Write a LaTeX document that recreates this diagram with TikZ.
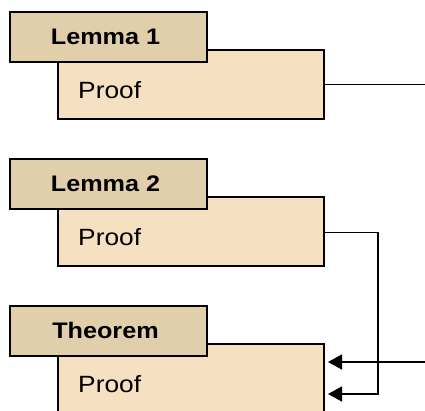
\documentclass[tikz,border=0pt]{standalone}
\usepackage{fontspec}
\setmainfont{Liberation Sans}[FakeStretch=1.12]
\usetikzlibrary{arrows.meta}
\definecolor{headfill}{HTML}{E1CFAB}
\definecolor{prooffill}{HTML}{F5E1C1}
\tikzset{
  proofbox/.style={draw=black, line width=1.7pt, fill=prooffill, anchor=north west,
    minimum width=266pt, minimum height=69pt, inner sep=0pt, outer sep=0pt},
  headbox/.style={draw=black, line width=1.7pt, fill=headfill, anchor=north west,
    minimum width=197pt, minimum height=50pt, inner sep=0pt, outer sep=0pt},
  headtext/.style={anchor=base, inner sep=0pt, font=\fontsize{22.5}{25}\selectfont\bfseries},
  prooftext/.style={anchor=base west, inner sep=0pt, font=\fontsize{23.5}{26}\selectfont},
  conn/.style={line width=1.7pt, draw=black},
  arr/.style={conn, -{Triangle[length=14pt,width=15pt]}}
}
\begin{document}
\begin{tikzpicture}[x=1pt,y=-1pt]
\useasboundingbox (0,0) rectangle (425,410);
% Lemma 1
\node[proofbox] (p1) at (58,50) {};
\node[headbox] (h1) at (10,12) {};
\node[headtext] (h1t) at (105.5,44.5) {Lemma 1};
\node[prooftext] (p1t) at (78,98.5) {Proof};
% Lemma 2
\node[proofbox] (p2) at (58,197) {};
\node[headbox] (h2) at (10,159) {};
\node[headtext] (h2t) at (105.5,191.5) {Lemma 2};
\node[prooftext] (p2t) at (78,245.5) {Proof};
% Theorem
\node[proofbox] (p3) at (58,344) {};
\node[headbox] (h3) at (10,306) {};
\node[headtext] (h3t) at (105.5,338.5) {Theorem};
\node[prooftext] (p3t) at (78,392.5) {Proof};
% connectors
\coordinate (e1) at (425,84.5);
\coordinate (e3) at (425,362);
\coordinate (t1) at (328,362);
\coordinate (t2) at (328,394);
\coordinate (bend) at (378,232.5);
\draw[conn] (p1.east) -- (e1);
\draw[arr] (e3) -- (t1);
\draw[arr] (p2.east |- bend) -- (bend) |- (t2);
\end{tikzpicture}
\end{document}
